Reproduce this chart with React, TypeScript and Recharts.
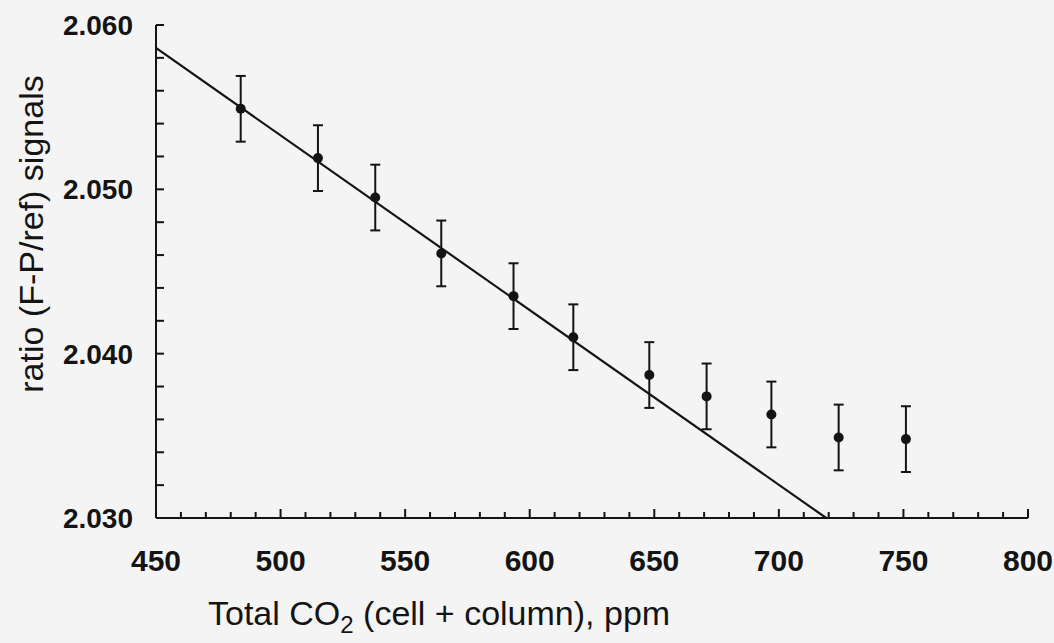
import React from "react";
import { ComposedChart, Scatter, ErrorBar, XAxis, YAxis } from "recharts";

// ---------------------------------------------------------------------------
// Data
// ---------------------------------------------------------------------------
const co2 = [484, 515, 538, 564.5, 593.5, 617.5, 648, 671, 697, 724, 751];
const ratio = [2.0549, 2.0519, 2.0495, 2.0461, 2.0435, 2.041, 2.0387, 2.0374, 2.0363, 2.0349, 2.0348];
const ratioErr = [0.002, 0.002, 0.002, 0.002, 0.002, 0.002, 0.002, 0.002, 0.002, 0.002, 0.002];

// linear fit drawn across the left part of the plot
const fitX = [450, 719];
const fitY = [2.0586, 2.03];

const xTicks = [
  450, 460, 470, 480, 490, 500, 510, 520, 530, 540, 550, 560, 570, 580, 590, 600, 610, 620,
  630, 640, 650, 660, 670, 680, 690, 700, 710, 720, 730, 740, 750, 760, 770, 780, 790, 800,
];
const xMajor = [450, 500, 550, 600, 650, 700, 750, 800];
const yTicks = [
  2.03, 2.032, 2.034, 2.036, 2.038, 2.04, 2.042, 2.044, 2.046, 2.048, 2.05, 2.052, 2.054,
  2.056, 2.058, 2.06,
];
const yMajor = [2.03, 2.04, 2.05, 2.06];

const points = co2.map((x, i) => ({ x, y: ratio[i], err: ratioErr[i] }));
const fitLine = fitX.map((x, i) => ({ x, y: fitY[i] }));

const INK = "#141414";
const FONT = "'Liberation Sans', Arial, sans-serif";

// ---------------------------------------------------------------------------
// Inward ticks
// ---------------------------------------------------------------------------
function XTick(props: any) {
  const { x, y, payload } = props;
  const major = xMajor.includes(payload.value);
  return (
    <g>
      <line x1={x} x2={x} y1={y} y2={y - (major ? 9 : 6)} stroke={INK} strokeWidth={2} />
      {major && (
        <text x={x} y={y + 53} textAnchor="middle" fontFamily={FONT} fontWeight="bold" fontSize={30} fill={INK}>
          {payload.value}
        </text>
      )}
    </g>
  );
}

function YTick(props: any) {
  const { x, y, payload } = props;
  const major = yMajor.some((m) => Math.abs(m - payload.value) < 1e-9);
  return (
    <g>
      <line x1={x} x2={x + 8} y1={y} y2={y} stroke={INK} strokeWidth={2} />
      {major && (
        <text x={x - 23} y={y + 10} textAnchor="end" fontFamily={FONT} fontWeight="bold" fontSize={28} fill={INK}>
          {payload.value.toFixed(3)}
        </text>
      )}
    </g>
  );
}

export default function App() {
  return (
    <div style={{ position: "absolute", left: 0, top: 0, width: 1054, height: 643, background: "#f4f4f4" }}>
      <ComposedChart width={1054} height={643} margin={{ top: 25, right: 26, bottom: 65, left: 56 }}>
        <XAxis
          type="number"
          dataKey="x"
          domain={[450, 800]}
          ticks={xTicks}
          interval={0}
          allowDataOverflow
          height={60}
          tickSize={0}
          tickMargin={0}
          tickLine={false}
          axisLine={{ stroke: INK, strokeWidth: 2 }}
          tick={<XTick />}
        />
        <YAxis
          type="number"
          dataKey="y"
          domain={[2.03, 2.06]}
          ticks={yTicks}
          interval={0}
          allowDataOverflow
          width={100}
          tickSize={0}
          tickMargin={0}
          tickLine={false}
          axisLine={{ stroke: INK, strokeWidth: 2 }}
          tick={<YTick />}
        />
        <Scatter
          data={fitLine}
          line={{ stroke: INK, strokeWidth: 2.2 }}
          shape={() => <g />}
          isAnimationActive={false}
        />
        <Scatter
          data={points}
          fill={INK}
          shape={(p: any) => <circle cx={p.cx} cy={p.cy} r={5} fill={INK} />}
          isAnimationActive={false}
        >
          <ErrorBar dataKey="err" direction="y" width={5} stroke={INK} strokeWidth={2} />
        </Scatter>
      </ComposedChart>
      <svg
        width={1054}
        height={643}
        style={{ position: "absolute", left: 0, top: 0, pointerEvents: "none" }}
      >
        <text
          x={43}
          y={234}
          transform="rotate(-90 43 234)"
          textAnchor="middle"
          fontFamily={FONT}
          fontSize={34}
          fill={INK}
        >
          ratio (F-P/ref) signals
        </text>
        <text x={208} y={625} fontFamily={FONT} fontSize={34} fill={INK}>
          Total CO
          <tspan dy={8} fontSize={24}>2</tspan>
          <tspan dy={-8}> (cell + column), ppm</tspan>
        </text>
      </svg>
    </div>
  );
}
